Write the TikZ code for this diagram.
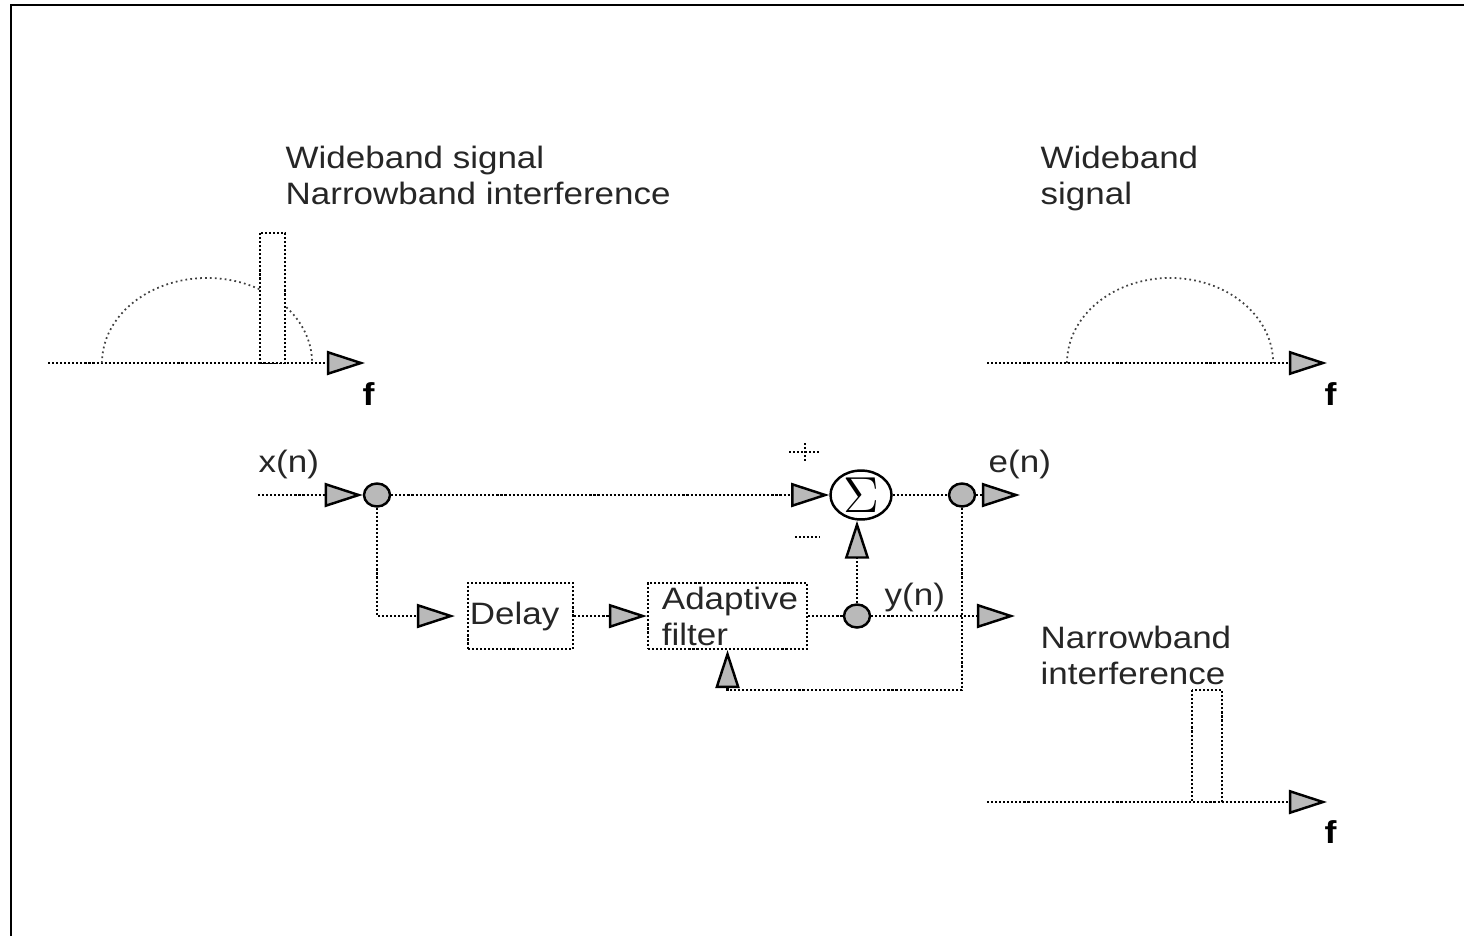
\documentclass[tikz,border=0pt]{standalone}
\usepackage[no-math]{fontspec}
\setmainfont{Liberation Sans}[FakeStretch=1.13]
\usetikzlibrary{arrows.meta,shapes.geometric}
\begin{document}
\begin{tikzpicture}[x=0.01cm,y=-0.01cm,
  lbl/.style={font=\fontsize{8.8}{10.2}\selectfont, text=black!85, inner sep=0pt},
  ml/.style={lbl, align=left, anchor=north west},
  sl/.style={lbl, anchor=base west},
  fl/.style={font=\fontsize{9}{10}\selectfont\bfseries, inner sep=0pt, anchor=base west},
  dl/.style={line width=0.6pt, dash pattern=on 0.6pt off 0.55pt},
  arcst/.style={line width=0.5pt, dash pattern=on 0.5pt off 0.9pt, black!75},
  al/.style={dl, -{Triangle[length=0.38cm,width=0.24cm,fill=gray!55,line width=0.7pt]}},
  jn/.style={ellipse, draw, fill=gray!55, minimum width=0.26cm, minimum height=0.23cm, inner sep=0pt, line width=0.7pt},
  box/.style={rectangle, draw, dl, lbl, align=left, minimum height=0.66cm}]
\useasboundingbox (0,0) rectangle (1464,936);
% frame
\draw[line width=0.7pt] (11,936) -- (11,5) -- (1464,5);

% top-left spectrum
\coordinate (a1s) at (48,363);
\coordinate (a1e) at (365,363);
\draw[al] (a1s) -- (a1e);
\draw[arcst] (102,363) arc[start angle=180,end angle=0,x radius=1.05cm,y radius=0.85cm];
\draw[dl, fill=white] (260,233) rectangle (285,363);
\node[fl] (f1) at (362,405) {f};
\node[ml] (t1) at (285,145) {Wideband signal\\Narrowband interference};

% top-right spectrum
\coordinate (a2s) at (987,363);
\coordinate (a2e) at (1327,363);
\draw[al] (a2s) -- (a2e);
\draw[arcst] (1067,363) arc[start angle=180,end angle=0,x radius=1.03cm,y radius=0.85cm];
\node[fl] (f2) at (1324,405) {f};
\node[ml] (t2) at (1040,145) {Wideband\\signal};

% bottom-right spectrum
\coordinate (a3s) at (987,802);
\coordinate (a3e) at (1327,802);
\draw[al] (a3s) -- (a3e);
\draw[dl, fill=white] (1192,690) rectangle (1222,802);
\node[fl] (f3) at (1324,843) {f};
\node[ml] (t3) at (1040,625) {Narrowband\\interference};

% block diagram
\node[jn] (jx) at (377,495) {};
\node[jn] (je) at (962,495) {};
\node[jn] (jy) at (857,616) {};
\node[ellipse, draw, line width=0.7pt, minimum width=0.61cm, minimum height=0.46cm, inner sep=0pt] (sum) at (861,495) {\fontsize{15}{15}\selectfont$\Sigma$};
\node[box, inner xsep=0.02cm, text width=1.01cm] (delay) at (520.5,616) {Delay};
\node[box, inner xsep=0.14cm, text width=1.31cm] (filter) at (727.5,616) {Adaptive\\filter};
\coordinate (xin) at (258,495);
\coordinate (eout) at (1020,495);
\coordinate (yout) at (1015,616);
\coordinate (fbk) at (727.5,690);

\node[sl] (xn) at (258,472) {x(n)};
\node[sl] (en) at (988,472) {e(n)};
\node[sl] (yn) at (884,605) {y(n)};

\draw[al] (xin) -- (jx);
\draw[al] (jx) -- (sum);
\draw[dl] (sum) -- (je);
\draw[al] (je) -- (eout);
\draw[al, shorten >=0.12cm] (jx) |- (delay);
\draw[al] (delay) -- (filter);
\draw[dl] (filter) -- (jy);
\draw[al] (jy) -- (yout);
\draw[al] (jy) -- (jy |- sum.south);
\draw[al] (je) |- (fbk) -- (filter.south);

% plus / minus signs
\draw[dl] (789,452) -- (820,452);
\draw[dl] (805,443) -- (805,463);
\draw[dl] (795,537) -- (820,537);
\end{tikzpicture}
\end{document}
